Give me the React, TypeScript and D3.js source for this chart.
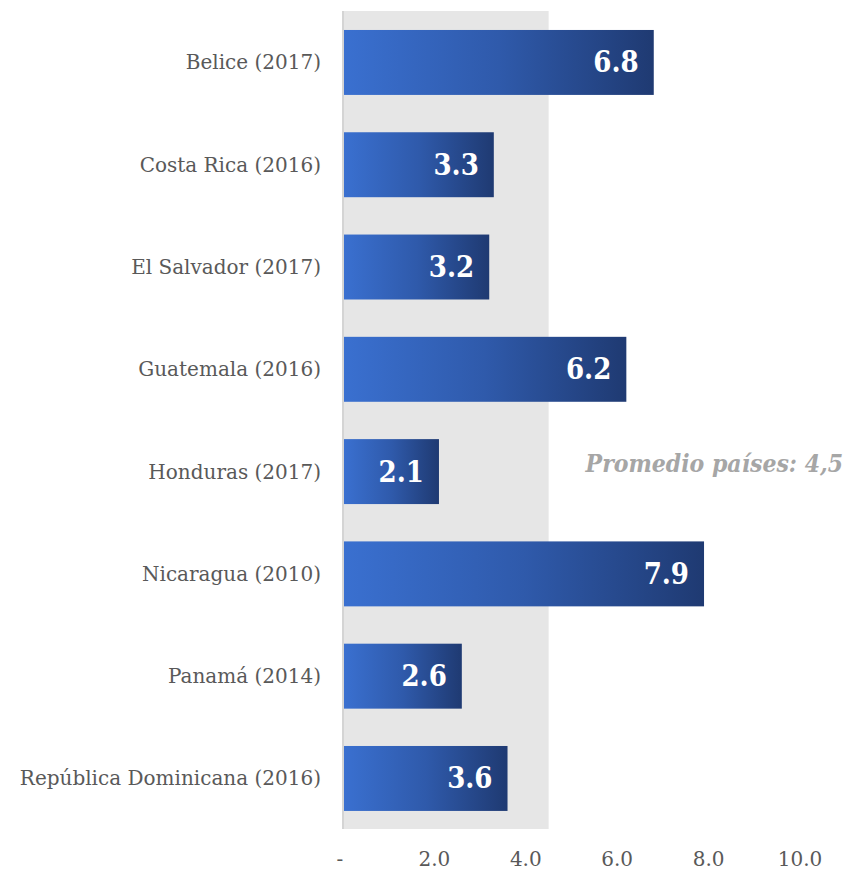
import React from "react";
import * as d3 from "d3";

const categories = [
  "Belice (2017)",
  "Costa Rica (2016)",
  "El Salvador (2017)",
  "Guatemala (2016)",
  "Honduras (2017)",
  "Nicaragua (2010)",
  "Panamá (2014)",
  "República Dominicana (2016)",
];
const values = [6.8, 3.3, 3.2, 6.2, 2.1, 7.9, 2.6, 3.6];
const average = 4.5;
const averageLabel = "Promedio países: 4,5";
const xTicks = [0, 2, 4, 6, 8, 10];
const xTickLabels = ["-", "2.0", "4.0", "6.0", "8.0", "10.0"];

const W = 847;
const H = 871;

export default function App() {
  const x = d3.scaleLinear().domain([0, 10]).range([343, 800]);
  const y = d3.scaleBand<string>().domain(categories).range([11.3, 829.6]).paddingInner(0.365).paddingOuter(0.1825);
  const serifC = "'DejaVu Serif Condensed', 'DejaVu Serif', serif";
  const serif = "'DejaVu Serif', serif";
  return (
    <svg width={W} height={H} style={{ position: "absolute", left: 0, top: 0 }}>
      <defs>
        <linearGradient id="barGrad" x1="0" x2="1" y1="0" y2="0">
          <stop offset="0%" stopColor="#3a70d0" />
          <stop offset="50%" stopColor="#2f5aab" />
          <stop offset="100%" stopColor="#1f3a72" />
        </linearGradient>
      </defs>
      <rect x={x(0)} y={11} width={x(average) - x(0)} height={818} fill="#e6e6e6" />
      <line x1={x(0)} x2={x(0)} y1={11} y2={829} stroke="#d4d4d4" strokeWidth={2} />
      {categories.map((c, i) => {
        const y0 = y(c)!;
        const bw = y.bandwidth();
        return (
          <g key={c}>
            <rect x={x(0) + 1} y={y0} width={x(values[i]) - x(0) - 1} height={bw} fill="url(#barGrad)" />
            <text
              x={x(values[i]) - 15}
              y={y0 + bw / 2 + 10}
              textAnchor="end"
              fill="#ffffff"
              fontFamily={serifC}
              fontWeight="bold"
              fontSize={29}
            >
              {values[i].toFixed(1)}
            </text>
            <text
              x={321}
              y={y0 + bw / 2 + 7}
              textAnchor="end"
              fill="#595959"
              fontFamily={serif}
              fontSize={20}
            >
              {c}
            </text>
          </g>
        );
      })}
      {xTicks.map((t, i) => (
        <text
          key={t}
          x={t === 0 ? x(t) - 3 : x(t)}
          y={866}
          textAnchor="middle"
          fill="#595959"
          fontFamily={serif}
          fontSize={20}
        >
          {xTickLabels[i]}
        </text>
      ))}
      <text
        x={843}
        y={472}
        textAnchor="end"
        fill="#a6a6a6"
        fontFamily={serifC}
        fontWeight="bold"
        fontStyle="italic"
        fontSize={24.5}
      >
        {averageLabel}
      </text>
    </svg>
  );
}
